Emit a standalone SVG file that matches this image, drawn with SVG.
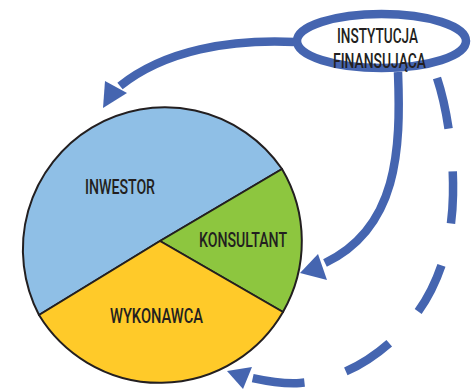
<svg xmlns="http://www.w3.org/2000/svg" width="474" height="392" viewBox="0 0 474 392">
  <style>
    .slice { stroke: #231F20; stroke-width: 2; stroke-linejoin: round; }
    .label { font-family: Roboto, "Liberation Sans", Arial, sans-serif; font-weight: 500; font-size: 21px; fill: #231F20; text-anchor: middle; }
    .flow { fill: none; stroke: #4565B0; stroke-width: 8.5; }
    .head { fill: #4565B0; }
  </style>

  <!-- connectors -->
  <g id="connectors">
    <!-- to INWESTOR -->
    <path class="flow" d="M 295 42 C 230 39, 165 50, 120 86"/>
    <polygon class="head" points="103,108 105,81 127,93"/>
    <!-- to KONSULTANT -->
    <path class="flow" d="M 398 72 C 401 150, 398 228, 325 263"/>
    <polygon class="head" points="300,273 318,254 327,280"/>
    <!-- to WYKONAWCA (dashed) -->
    <path class="flow" stroke-dasharray="52 43" d="M 437 78 C 446 105, 454 150, 453 195 C 452 250, 435 295, 405 328 C 375 360, 340 380, 300 383 C 285 384, 265 381, 248 377"/>
    <polygon class="head" points="227,371 252,367 243,389"/>
  </g>

  <!-- pie of project parties -->
  <g id="inwestor">
    <path class="slice" fill="#8FBFE6" d="M 160 241 L 39 315 A 142 142 0 0 1 282 169 Z"/>
    <text class="label" x="120" y="193.5" textLength="70" lengthAdjust="spacingAndGlyphs">INWESTOR</text>
  </g>
  <g id="konsultant">
    <path class="slice" fill="#8DC63F" d="M 160 241 L 282 169 A 142 142 0 0 1 283 312 Z"/>
    <text class="label" x="243" y="246.5" textLength="88" lengthAdjust="spacingAndGlyphs">KONSULTANT</text>
  </g>
  <g id="wykonawca">
    <path class="slice" fill="#FFCA29" d="M 160 241 L 283 312 A 142 142 0 0 1 39 315 Z"/>
    <text class="label" x="156.5" y="322.5" textLength="93" lengthAdjust="spacingAndGlyphs">WYKONAWCA</text>
  </g>

  <!-- financing institution -->
  <g id="instytucja">
    <ellipse cx="381.5" cy="41" rx="84.5" ry="27" fill="#FFFFFF" stroke="#4565B0" stroke-width="8.5"/>
    <text class="label" x="377.5" y="42.5" textLength="81" lengthAdjust="spacingAndGlyphs">INSTYTUCJA</text>
    <text class="label" x="379.5" y="68" textLength="93" lengthAdjust="spacingAndGlyphs">FINANSUJĄCA</text>
  </g>
</svg>
